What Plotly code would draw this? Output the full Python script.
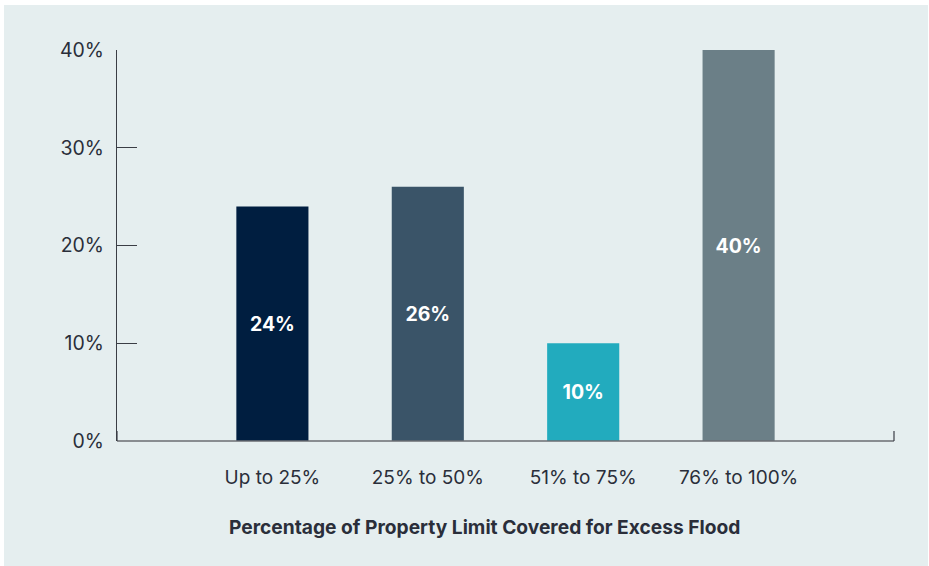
import plotly.graph_objects as go

# Share of respondents by percentage of property limit covered for excess flood
categories = ["Up to 25%", "25% to 50%", "51% to 75%", "76% to 100%"]
shares = [24, 26, 10, 40]
bar_colors = ["#001e40", "#3a5468", "#22abbe", "#6b7f87"]
y_ticks = [0, 10, 20, 30, 40]
y_tick_labels = ["0%", "10%", "20%", "30%", "40%"]
x_title = "Percentage of Property Limit Covered for Excess Flood"

BG = "#e5eeef"
TEXT = "#2a2e3a"
FONT = "Inter"

W, H = 929, 566
L, R, T, B = 117, 35, 50, 125
pw, ph = W - L - R, H - T - B

fig = go.Figure(
    go.Bar(
        x=list(range(len(categories))),
        y=shares,
        marker=dict(color=bar_colors, line=dict(width=0)),
        width=0.464,
        text=[f"{v}%" for v in shares],
        textposition="inside",
        insidetextanchor="middle",
        textangle=0,
        textfont=dict(family=FONT, size=19.5, color="white", weight="bold"),
        hoverinfo="skip",
    )
)

fig.update_layout(
    width=W,
    height=H,
    margin=dict(l=L, r=R, t=T, b=B, pad=0),
    paper_bgcolor="white",
    plot_bgcolor="rgba(0,0,0,0)",
    showlegend=False,
    font=dict(family=FONT, color=TEXT),
    xaxis=dict(
        range=[-1, 4],
        tickmode="array",
        tickvals=list(range(len(categories))),
        ticktext=categories,
        ticks="",
        showgrid=False,
        zeroline=False,
        showline=False,
        tickfont=dict(family=FONT, size=19, color=TEXT),
        ticklabelstandoff=23,
        fixedrange=True,
    ),
    yaxis=dict(
        range=[0, 40],
        tickmode="array",
        tickvals=y_ticks,
        ticktext=y_tick_labels,
        ticks="inside",
        ticklen=20,
        tickwidth=1.2,
        tickcolor="#3a3d45",
        showgrid=False,
        zeroline=False,
        showline=True,
        linecolor="#3a3d45",
        linewidth=1.2,
        tickfont=dict(family=FONT, size=19.5, color=TEXT),
        ticklabelstandoff=8,
        fixedrange=True,
    ),
    annotations=[
        dict(
            text=f"<b>{x_title}</b>",
            xref="paper", yref="paper",
            x=(484 - L) / pw, y=-(527 - T - ph) / ph,
            xanchor="center", yanchor="middle",
            showarrow=False,
            font=dict(family=FONT, size=19.2, color=TEXT),
        )
    ],
    shapes=[
        # panel background with a thin white edge at the top and sides
        dict(
            type="rect", xref="paper", yref="paper", layer="below",
            x0=(4 - L) / pw, x1=(928 - L) / pw,
            y0=(T + ph - H) / ph, y1=(T + ph - 5) / ph,
            fillcolor=BG, line=dict(width=0),
        ),
        # baseline along the category axis
        dict(
            type="line", xref="paper", yref="paper", layer="above",
            x0=0, x1=1, y0=0, y1=0,
            line=dict(color="#6a6d72", width=1.5),
        ),
        # end ticks of the baseline
        dict(
            type="line", xref="paper", yref="paper", layer="above",
            x0=0, x1=0, y0=0, y1=10 / ph,
            line=dict(color="#3a3d45", width=1.2),
        ),
        dict(
            type="line", xref="paper", yref="paper", layer="above",
            x0=1, x1=1, y0=0, y1=10 / ph,
            line=dict(color="#3a3d45", width=1.2),
        ),
    ],
)

fig.write_html("out.html")
